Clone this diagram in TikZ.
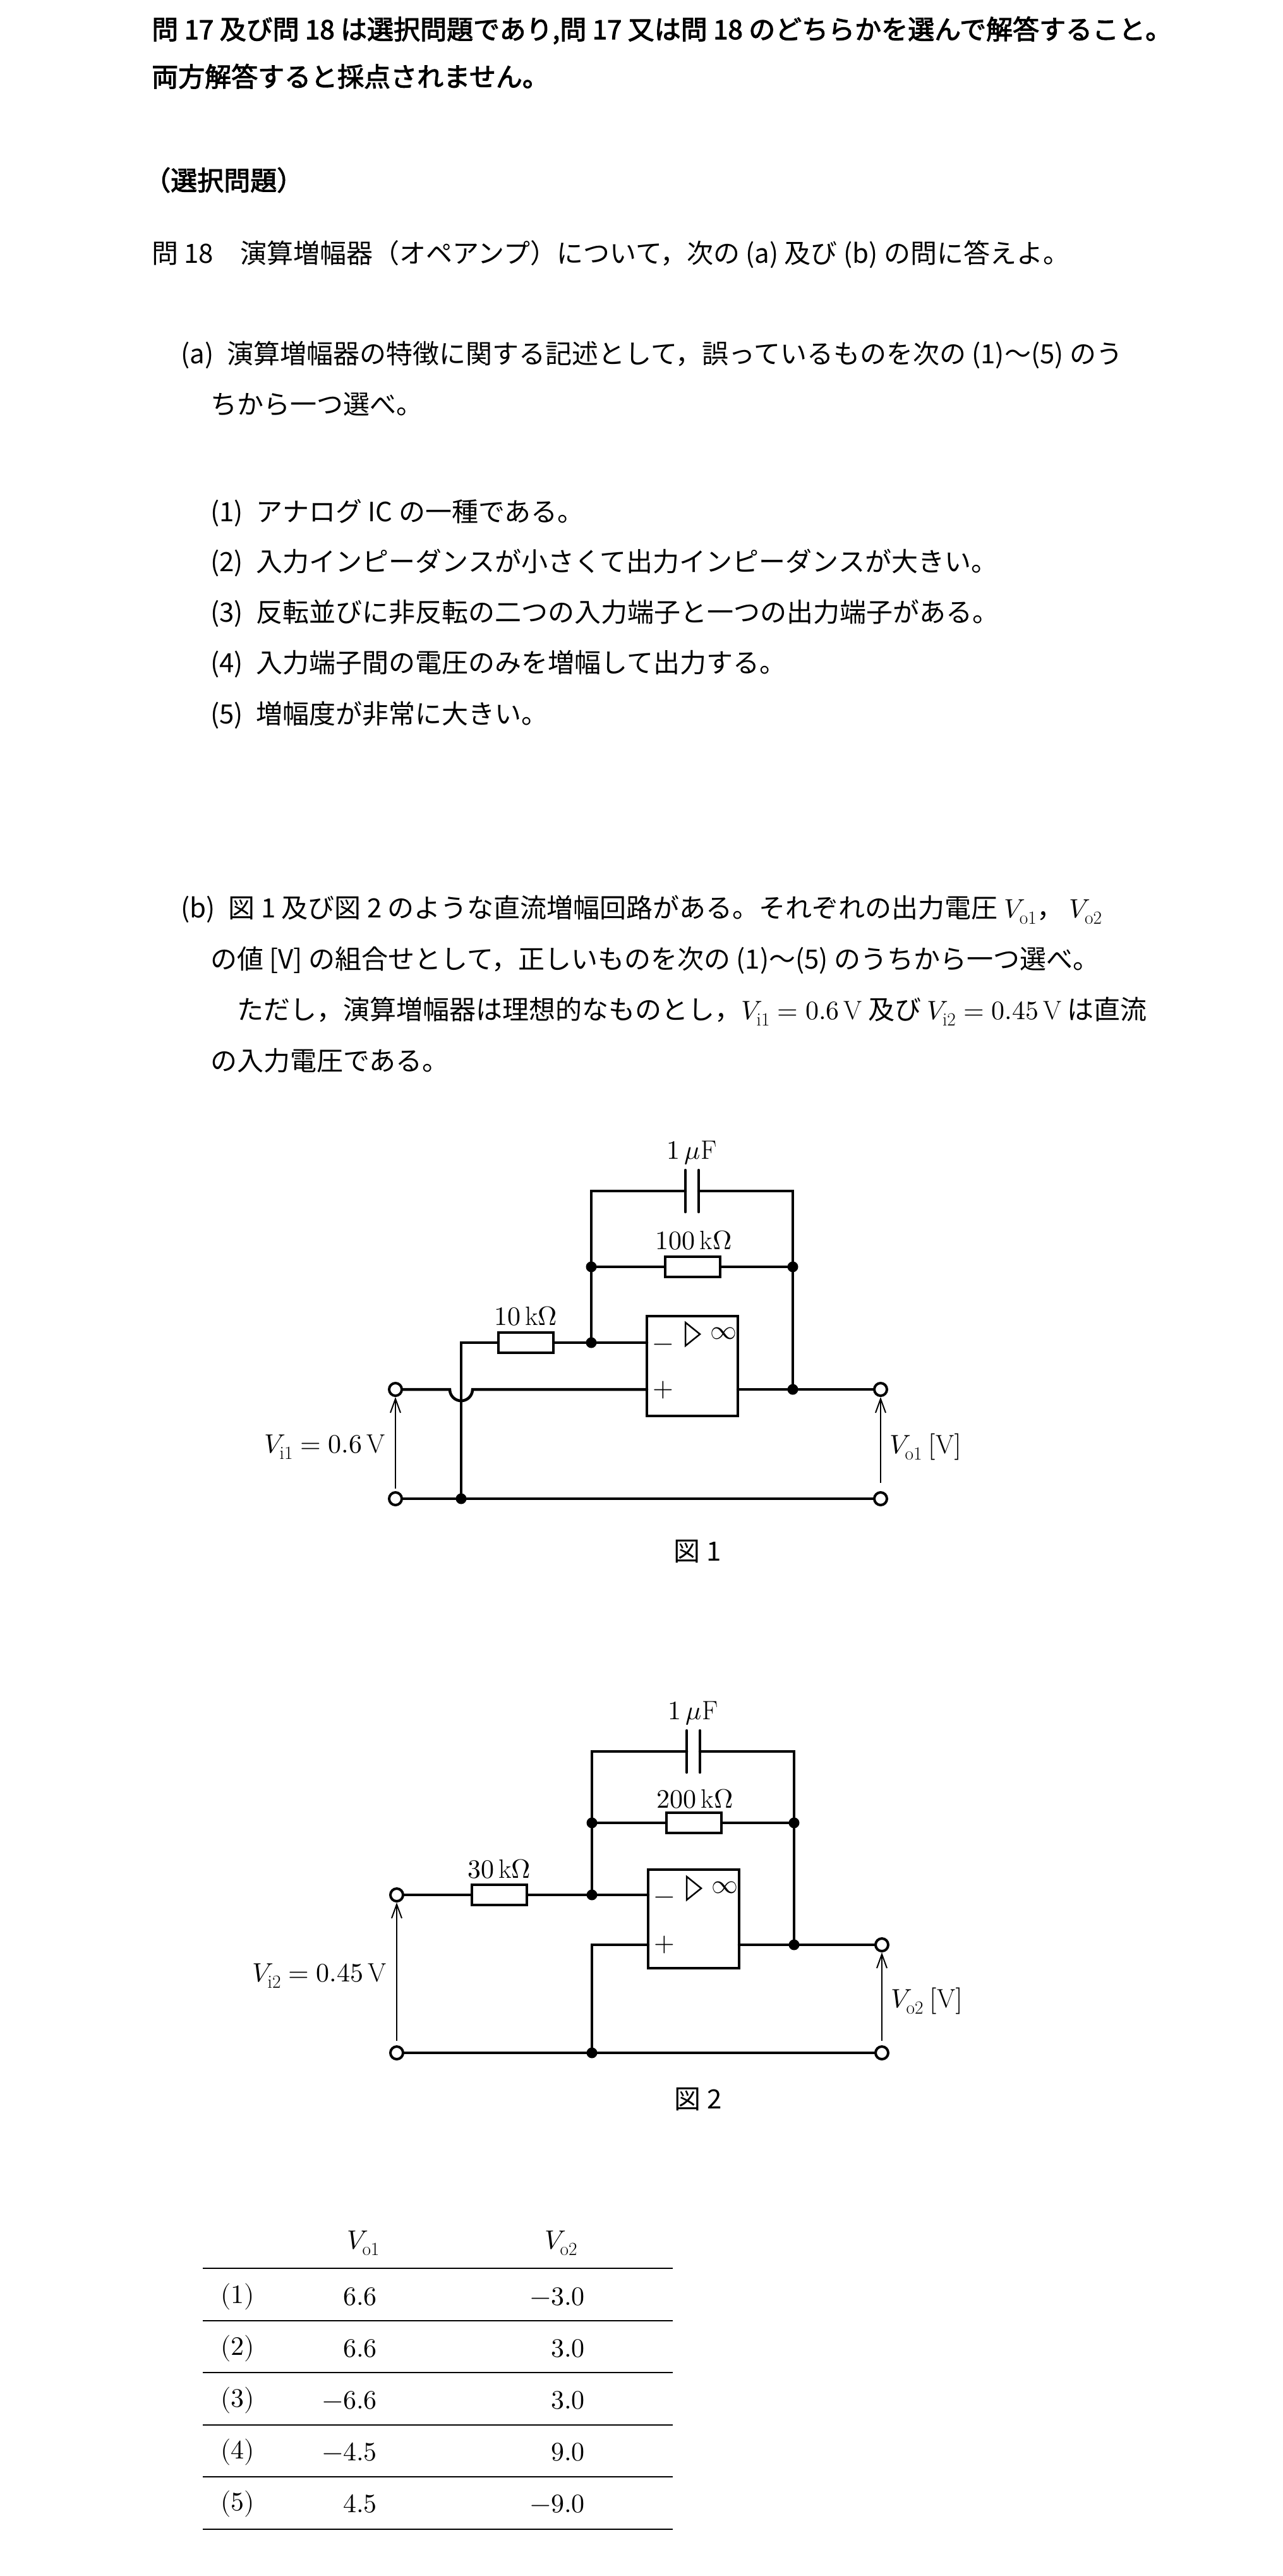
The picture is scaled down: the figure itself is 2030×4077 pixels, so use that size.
\documentclass[tikz,border=0pt]{standalone}
\usetikzlibrary{arrows.meta}
\usepackage{fontspec}
\usepackage{unicode-math}
\setmainfont{Noto Sans CJK JP}
\setmathfont{Latin Modern Math}
\setmathrm{Latin Modern Roman}
\newfontfamily\jpb[FakeBold=2.5]{Noto Sans CJK JP}
\newcommand\fsz{\fontsize{42}{50}\selectfont}
\begin{document}
\begin{tikzpicture}[x=1pt,y=-1pt,
  txt/.style={anchor=base west,inner sep=0pt,font=\fsz},
  lbl/.style={inner sep=0pt,font=\fsz},
  wire/.style={line width=4.5pt,line cap=round,line join=miter},
  thin/.style={line width=2pt,-{Straight Barb[length=22pt,width=16pt,line width=2pt]}},
  res/.style={draw,line width=4pt,fill=white,minimum width=87pt,minimum height=32pt,inner sep=0pt},
  dotn/.style={circle,fill=black,minimum size=17pt,inner sep=0pt},
  term/.style={circle,draw,line width=4pt,fill=white,minimum size=20pt,inner sep=0pt},
  box/.style={draw,line width=4.5pt,inner sep=0pt}]
\useasboundingbox[fill=white] (0,0) rectangle (2030,4077);
% ---------- text ----------
\node[txt] (t1) at (240,62) {\jpb 問 17 及び問 18 は選択問題であり,問 17 又は問 18 のどちらかを選んで解答すること。};
\node[txt] (t2) at (240,137) {\jpb 両方解答すると採点されません。};
\node[txt] (t3) at (228,301) {\jpb （選択問題）};
\node[txt] (t4) at (240,416) {問 18\quad 演算増幅器（オペアンプ）について，次の (a) 及び (b) の問に答えよ。};
\node[txt] (a1) at (286,575) {(a)\; 演算増幅器の特徴に関する記述として，誤っているものを次の (1)～(5) のう};
\node[txt] (a2) at (333,655) {ちから一つ選べ。};
\node[txt] (c1) at (333,825) {(1)\; アナログ IC の一種である。};
\node[txt] (c2) at (333,904) {(2)\; 入力インピーダンスが小さくて出力インピーダンスが大きい。};
\node[txt] (c3) at (333,984) {(3)\; 反転並びに非反転の二つの入力端子と一つの出力端子がある。};
\node[txt] (c4) at (333,1064) {(4)\; 入力端子間の電圧のみを増幅して出力する。};
\node[txt] (c5) at (333,1145) {(5)\; 増幅度が非常に大きい。};
\node[txt] (b1) at (286,1452) {(b)\; 図 1 及び図 2 のような直流増幅回路がある。それぞれの出力電圧 $V_{\mathrm{o1}}$， $V_{\mathrm{o2}}$};
\node[txt] (b2) at (333,1533) {の値 [V] の組合せとして，正しいものを次の (1)～(5) のうちから一つ選べ。};
\node[txt] (b3) at (375,1613) {ただし，演算増幅器は理想的なものとし，$V_{\mathrm{i1}}=0.6\,\mathrm{V}$ 及び $V_{\mathrm{i2}}=0.45\,\mathrm{V}$ は直流};
\node[txt] (b4) at (333,1694) {の入力電圧である。};
% ---------- figure 1 ----------
\coordinate (A1) at (626,2199);
\coordinate (J1) at (730,2125);
\coordinate (N1) at (936,2125);
\coordinate (F1) at (936,2005);
\coordinate (G1) at (1255,2005);
\coordinate (O1) at (1255,2199);
\coordinate (Q1) at (730,2372);
\draw[wire] (A1) -- (712,2199) arc[start angle=180,end angle=0,radius=18] -- (1024,2199);
\draw[wire] (Q1) -- (J1) -- (N1) -- (1024,2125);
\draw[wire] (N1) -- (F1) -- (936,1885) -- (1085,1885);
\draw[wire] (1106,1885) -- (1255,1885) -- (G1) -- (O1) -- (1394,2199);
\draw[wire] (1168,2199) -- (O1);
\draw[wire] (1085,1852) -- (1085,1918) (1106,1852) -- (1106,1918);
\draw[wire] (F1) -- (G1);
\draw[wire] (626,2372) -- (1394,2372);
\node[res] (R11) at (832,2125) {};
\node[res] (R12) at (1096,2005) {};
\node[box,minimum width=144pt,minimum height=158pt] (U1) at (1096,2162) {};
\draw[line width=2.5pt] (1085,2093) -- (1085,2130) -- (1108,2111.5) -- cycle;
\node[lbl] (inf1) at (1145,2110) {$\infty$};
\node[lbl] (m1) at (1050,2133) {$-$};
\node[lbl] (p1) at (1050,2200) {$+$};
\foreach \p/\n in {N1/d11,F1/d12,G1/d13,O1/d14,Q1/d15} \node[dotn] (\n) at (\p) {};
\node[term] (T11) at (A1) {};
\node[term] (T12) at (626,2372) {};
\node[term] (T13) at (1394,2199) {};
\node[term] (T14) at (1394,2372) {};
\draw[thin] (626,2356) -- (T11);
\draw[thin] (1394,2347) -- (T13);
\node[lbl] (C1l) at (1095,1825) {$1\,\mu\mathrm{F}$};
\node[lbl] (R12l) at (1098,1963) {$100\,\mathrm{k}\Omega$};
\node[lbl] (R11l) at (832,2083) {$10\,\mathrm{k}\Omega$};
\node[lbl,anchor=east] (V1l) at (610,2290) {$V_{\mathrm{i1}}=0.6\,\mathrm{V}$};
\node[lbl,anchor=west] (V2l) at (1408,2290) {$V_{\mathrm{o1}}\ [\mathrm{V}]$};
\node[lbl] (fig1) at (1104,2455) {図 1};
% ---------- figure 2 ----------
\coordinate (A2) at (628,2999);
\coordinate (N2) at (937,2999);
\coordinate (F2) at (937,2885);
\coordinate (G2) at (1257,2885);
\coordinate (O2) at (1257,3078);
\coordinate (Q2) at (937,3249);
\draw[wire] (A2) -- (N2) -- (1026,2999);
\draw[wire] (1026,3078) -- (937,3078) -- (Q2);
\draw[wire] (N2) -- (F2) -- (937,2772) -- (1087,2772);
\draw[wire] (1108,2772) -- (1257,2772) -- (G2) -- (O2) -- (1396,3078);
\draw[wire] (1170,3078) -- (O2);
\draw[wire] (1087,2739) -- (1087,2805) (1108,2739) -- (1108,2805);
\draw[wire] (F2) -- (G2);
\draw[wire] (628,3249) -- (1396,3249);
\node[res] (R21) at (790,2999) {};
\node[res] (R22) at (1098,2885) {};
\node[box,minimum width=144pt,minimum height=156pt] (U2) at (1098,3037) {};
\draw[line width=2.5pt] (1087,2970) -- (1087,3007) -- (1110,2988.5) -- cycle;
\node[lbl] (inf2) at (1147,2987) {$\infty$};
\node[lbl] (m2) at (1052,3008) {$-$};
\node[lbl] (p2) at (1052,3078) {$+$};
\foreach \p/\n in {N2/d21,F2/d22,G2/d23,O2/d24,Q2/d25} \node[dotn] (\n) at (\p) {};
\node[term] (T21) at (A2) {};
\node[term] (T22) at (628,3249) {};
\node[term] (T23) at (1396,3078) {};
\node[term] (T24) at (1396,3249) {};
\draw[thin] (628,3230) -- (T21);
\draw[thin] (1396,3230) -- (T23);
\node[lbl] (C2l) at (1097,2712) {$1\,\mu\mathrm{F}$};
\node[lbl] (R22l) at (1100,2847) {$200\,\mathrm{k}\Omega$};
\node[lbl] (R21l) at (790,2958) {$30\,\mathrm{k}\Omega$};
\node[lbl,anchor=east] (V3l) at (612,3127) {$V_{\mathrm{i2}}=0.45\,\mathrm{V}$};
\node[lbl,anchor=west] (V4l) at (1410,3167) {$V_{\mathrm{o2}}\ [\mathrm{V}]$};
\node[lbl] (fig2) at (1105,3322) {図 2};
% ---------- table ----------
\node[lbl] (h1) at (575,3550) {$V_{\mathrm{o1}}$};
\node[lbl] (h2) at (888,3550) {$V_{\mathrm{o2}}$};
\foreach \yy in {3590,3673,3755,3838,3920,4003} \draw[line width=2.5pt] (321,\yy) -- (1065,\yy);
\foreach \i/\a/\b [count=\k from 0] in {1/6.6/-3.0, 2/6.6/3.0, 3/-6.6/3.0, 4/-4.5/9.0, 5/4.5/-9.0}{
  \node[lbl] (n\i) at (376,3635+82*\k) {$(\i)$};
  \node[lbl,anchor=east] (x\i) at (597,3635+82*\k) {$\a$};
  \node[lbl,anchor=east] (y\i) at (926,3635+82*\k) {$\b$};
}
\end{tikzpicture}
\end{document}
